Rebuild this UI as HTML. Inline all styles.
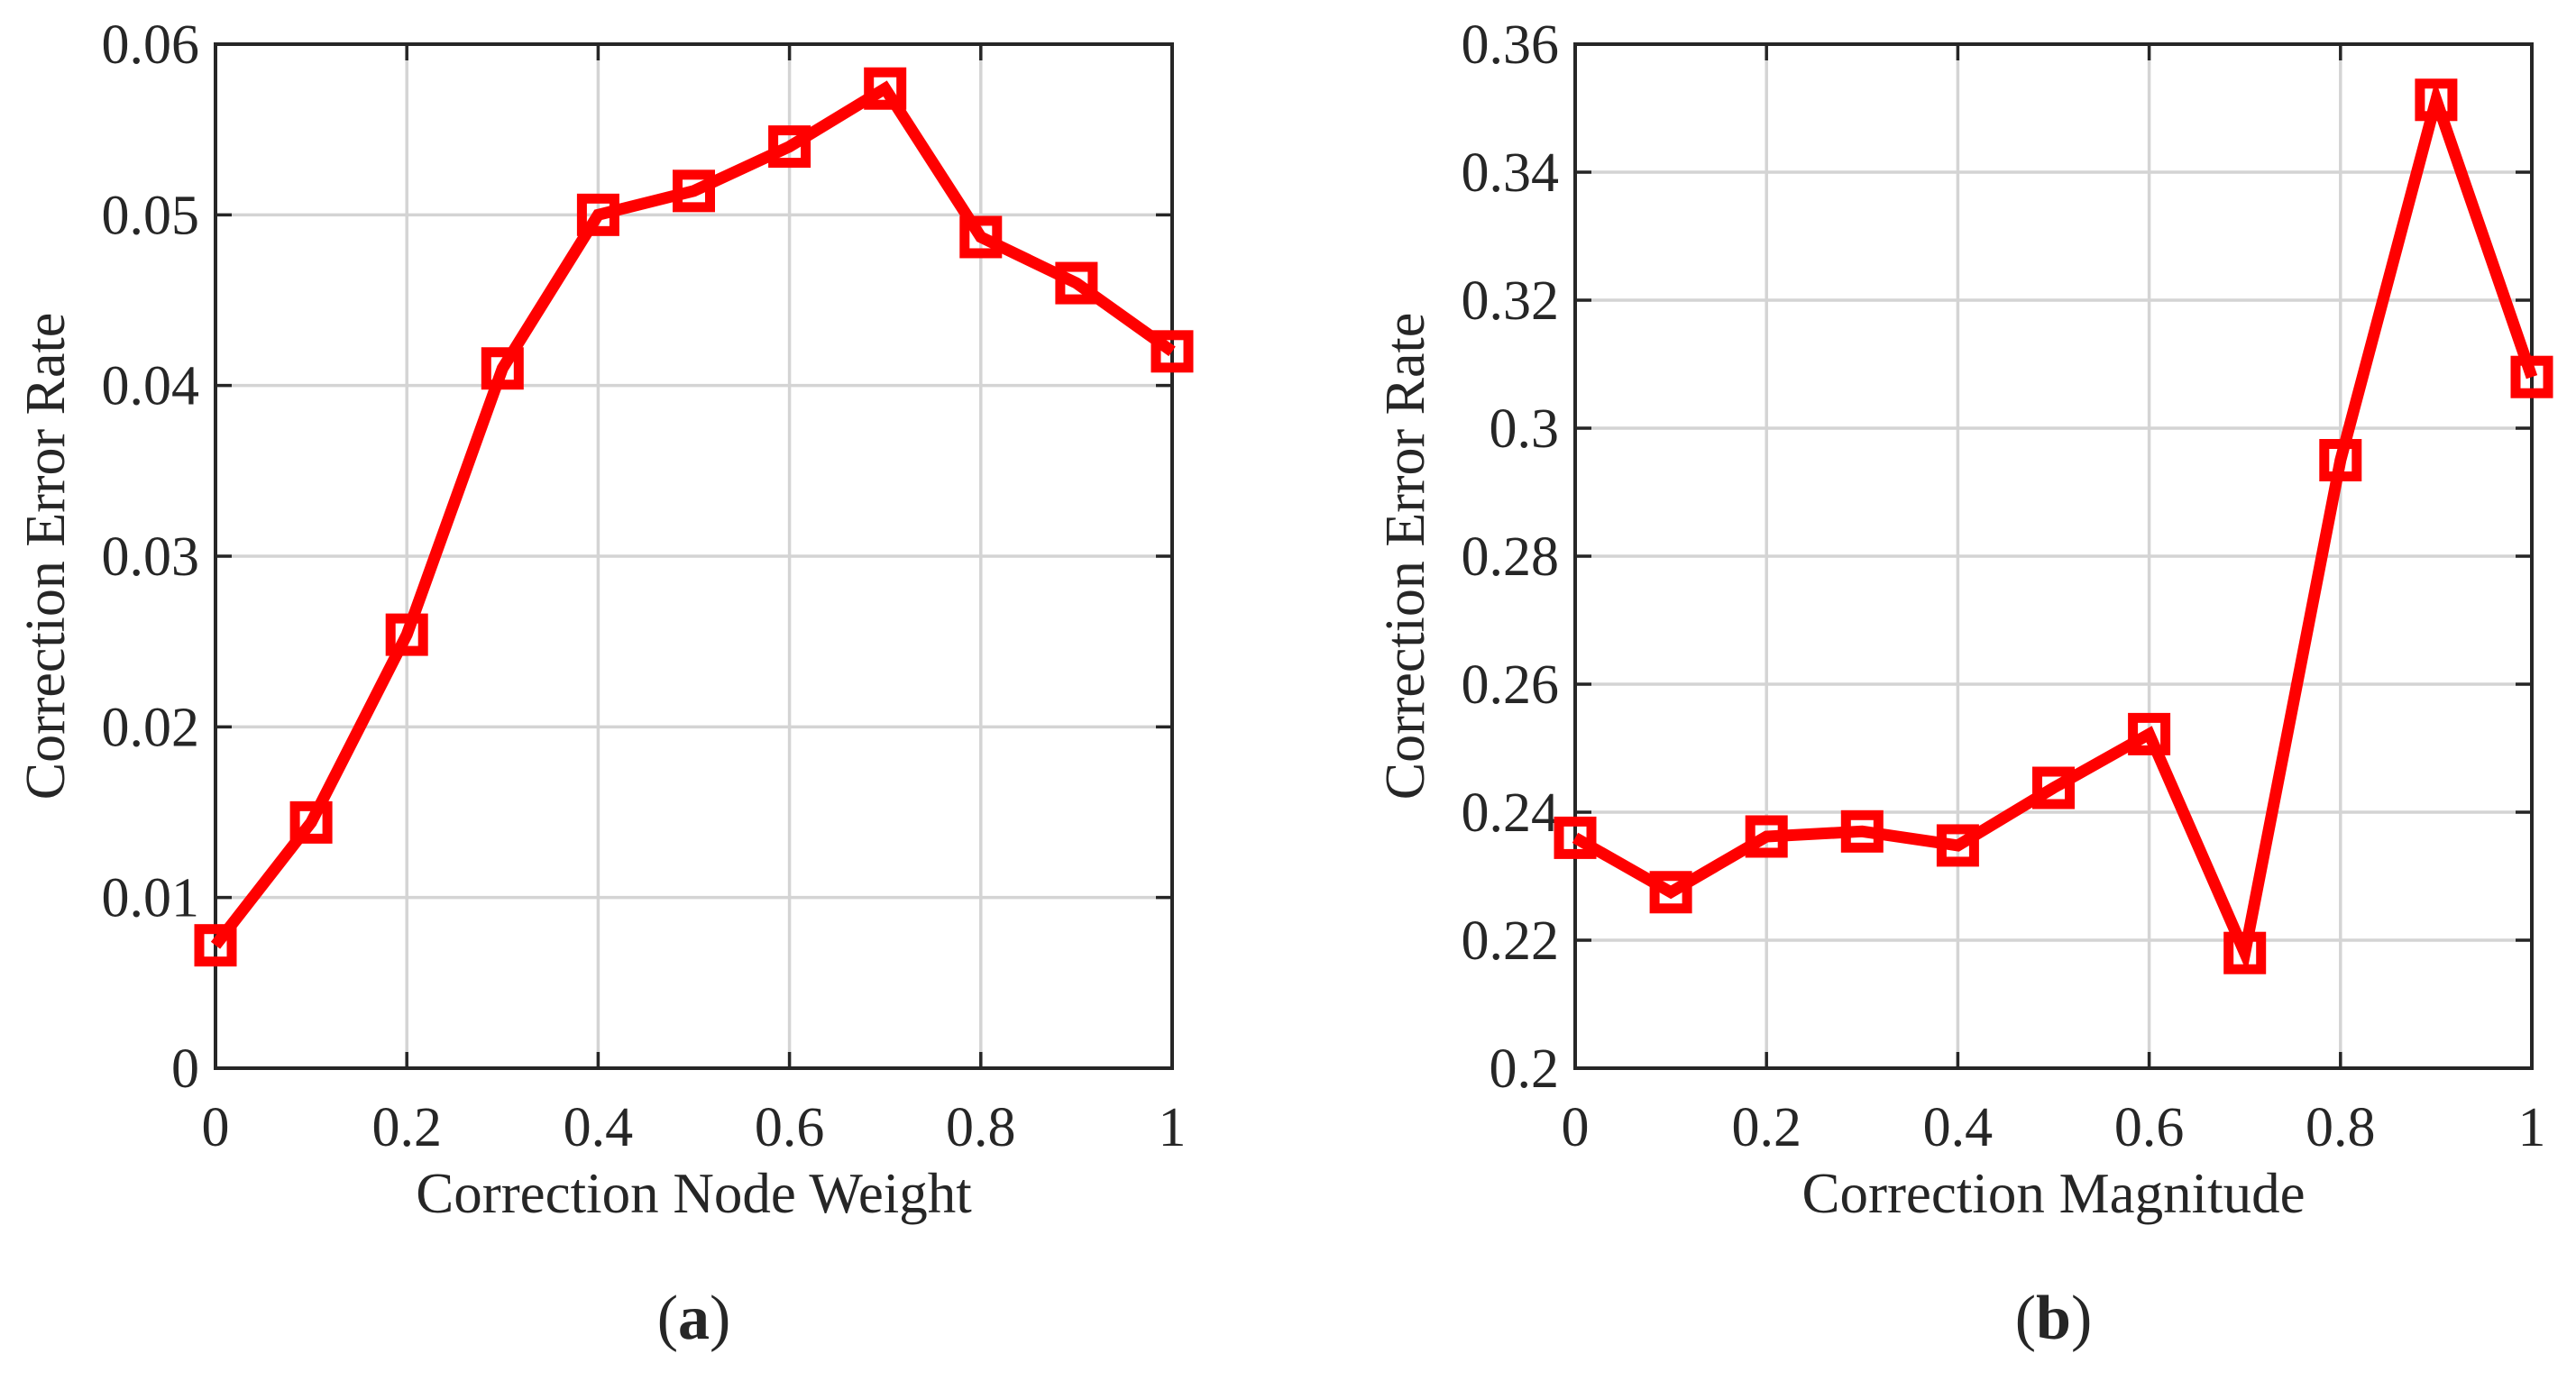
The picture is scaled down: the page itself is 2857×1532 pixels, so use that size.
<!DOCTYPE html>
<html><head><meta charset="utf-8"><style>
body{margin:0;background:#fff}
svg{display:block}
text{font-family:"Liberation Serif",serif;fill:#262626}
</style></head><body>
<svg id="fig" width="2857" height="1532" viewBox="0 0 2857 1532"></svg>
<script>
const xValues=[0,0.1,0.2,0.3,0.4,0.5,0.6,0.7,0.8,0.9,1];
const seriesA=[0.0072,0.0144,0.0254,0.041,0.050,0.0514,0.054,0.0574,0.0487,0.046,0.042];
const seriesB=[0.236,0.2275,0.2362,0.237,0.2348,0.2438,0.2522,0.218,0.295,0.3513,0.308];
const xTicks=[0,0.2,0.4,0.6,0.8,1];
const xTickLabels=["0","0.2","0.4","0.6","0.8","1"];
const yTicksA=[0,0.01,0.02,0.03,0.04,0.05,0.06];
const yTickLabelsA=["0","0.01","0.02","0.03","0.04","0.05","0.06"];
const yTicksB=[0.2,0.22,0.24,0.26,0.28,0.3,0.32,0.34,0.36];
const yTickLabelsB=["0.2","0.22","0.24","0.26","0.28","0.3","0.32","0.34","0.36"];
const NS="http://www.w3.org/2000/svg";
const svg=document.getElementById('fig');
function mk(tag,attrs,parent){const e=document.createElementNS(NS,tag);for(const k in attrs)e.setAttribute(k,attrs[k]);(parent||svg).appendChild(e);return e;}
function panel(id,L,R,T,B,ymin,ymax,yTicks,yLabels,series,xtitle,tag){
  const g=mk('g',{});
  
  
  const sx=v=>L+(v-0)/(1-0)*(R-L);
  const sy=v=>B-(v-ymin)/(ymax-ymin)*(B-T);
  xTicks.forEach((t,i)=>{
    const gl=mk('line',{x1:sx(t),x2:sx(t),y1:T,y2:B,stroke:'#d4d4d4','stroke-width':3.5},g);
    
    
    mk('line',{x1:sx(t),x2:sx(t),y1:B,y2:B-18,stroke:'#262626','stroke-width':3.5},g);
    mk('line',{x1:sx(t),x2:sx(t),y1:T,y2:T+18,stroke:'#262626','stroke-width':3.5},g);
    const tx=mk('text',{x:sx(t),y:B+86,'font-size':62,'text-anchor':'middle'},g);
    tx.textContent=xTickLabels[i];
    
    
  });
  yTicks.forEach((t,i)=>{
    const gl=mk('line',{x1:L,x2:R,y1:sy(t),y2:sy(t),stroke:'#d4d4d4','stroke-width':3.5},g);
    
    
    mk('line',{x1:L,x2:L+18,y1:sy(t),y2:sy(t),stroke:'#262626','stroke-width':3.5},g);
    mk('line',{x1:R,x2:R-18,y1:sy(t),y2:sy(t),stroke:'#262626','stroke-width':3.5},g);
    const tx=mk('text',{x:L-18,y:sy(t)+21,'font-size':62,'text-anchor':'end'},g);
    tx.textContent=yLabels[i];
    
    
  });
  const box=mk('rect',{x:L,y:T,width:R-L,height:B-T,fill:'none',stroke:'#262626','stroke-width':4},g);
  
  
  const pts=series.map((v,i)=>sx(xValues[i])+','+sy(v)).join(' ');
  const line=mk('polyline',{points:pts,fill:'none',stroke:'#ff0000','stroke-width':13,'stroke-linejoin':'miter'},g);
  
  
  series.forEach((v,i)=>{
    const m=mk('rect',{x:sx(xValues[i])-18,y:sy(v)-18,width:36,height:36,fill:'none',stroke:'#ff0000','stroke-width':11},g);
    
    
  });
  const xt=mk('text',{x:(L+R)/2,y:B+160,'font-size':63,'text-anchor':'middle'},g);
  xt.textContent=xtitle;
  
  
  const yx=L-168,yy=(T+B)/2;
  const yt=mk('text',{x:yx,y:yy,'font-size':62,'text-anchor':'middle',transform:`rotate(-90 ${yx} ${yy})`},g);
  yt.textContent='Correction Error Rate';
  
  
  const lab=mk('text',{x:(L+R)/2,y:B+300,'font-size':70,'text-anchor':'middle'},g);
  lab.innerHTML='(<tspan font-weight="bold">'+tag+'</tspan>)';
  
  
}
panel('panel-a',239,1300,49,1185,0,0.06,yTicksA,yTickLabelsA,seriesA,'Correction Node Weight','a');
panel('panel-b',1747,2808,49,1185,0.2,0.36,yTicksB,yTickLabelsB,seriesB,'Correction Magnitude','b');
</script>
</body></html>
